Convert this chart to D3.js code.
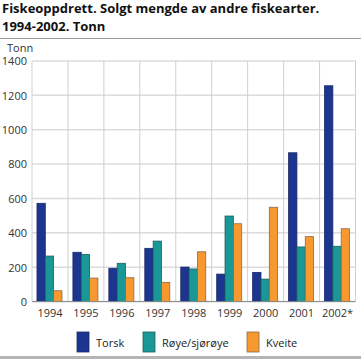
<!DOCTYPE html>
<html>
<head>
<meta charset="utf-8">
<script src="https://cdn.jsdelivr.net/npm/d3@7"></script>
<style>
body { margin:0; background:#fff; }
svg { display:block; font-family: "Open Sans", sans-serif; }
</style>
</head>
<body>
<svg id="c" width="361" height="359"></svg>
<script>
const years = ["1994","1995","1996","1997","1998","1999","2000","2001","2002*"];
const seriesNames = ["Torsk","Røye/sjørøye","Kveite"];
const torsk = [572, 287, 194, 310, 201, 160, 170, 866, 1256];
const roye  = [265, 275, 223, 352, 190, 498, 131, 318, 322];
const kveite= [63, 137, 139, 112, 290, 453, 549, 378, 424];
const yTicks = [0,200,400,600,800,1000,1200,1400];
const colors = ["#1b3591","#1a9898","#f7992f"];
const strokes = ["#1a2a66","#1f5f5f","#8a6a4a"];

(function(){
const svg = d3.select("#c");
const W = 361, H = 359;
const pl = 32, pr = 355.5, pt = 61, pb = 301.6;

svg.append("text").attr("x",2).attr("y",13).attr("font-size",13).attr("font-weight","bold").attr("fill","#111")
  .text("Fiskeoppdrett. Solgt mengde av andre fiskearter.");
svg.append("text").attr("x",2).attr("y",31).attr("font-size",13).attr("font-weight","bold").attr("fill","#111")
  .text("1994-2002. Tonn");
svg.append("line").attr("x1",0).attr("x2",W).attr("y1",38.5).attr("y2",38.5).attr("stroke","#9a9a9a").attr("stroke-width",1);

svg.append("text").attr("x",7).attr("y",52).attr("font-size",11).attr("fill","#333").text("Tonn");

const x = d3.scaleBand().domain(years).range([pl,pr]);
const y = d3.scaleLinear().domain([0,1400]).range([pb,pt]);
const xi = d3.scaleBand().domain(seriesNames).range([0,25]);

svg.append("g").selectAll("line").data(yTicks).join("line")
  .attr("x1",pl).attr("x2",pr).attr("y1",d=>y(d)).attr("y2",d=>y(d))
  .attr("stroke","#dcdcdc").attr("stroke-width",1.5);
const vx = years.map(d=>x(d)).concat([pr]);
svg.append("g").selectAll("line").data(vx).join("line")
  .attr("x1",d=>d).attr("x2",d=>d).attr("y1",pt).attr("y2",pb)
  .attr("stroke","#cfcfcf").attr("stroke-width",1);

const yAxis = d3.axisLeft(y).tickValues(yTicks).tickFormat(d3.format("d")).tickSize(0).tickPadding(0);
const ga = svg.append("g").attr("transform",`translate(${pl-5},0)`).call(yAxis);
ga.select(".domain").remove();
ga.selectAll("text").attr("font-size",11).attr("fill","#333").attr("font-family","Open Sans, sans-serif").attr("dy","0.35em");

const xAxis = d3.axisBottom(x).tickSize(0).tickPadding(0);
const gx = svg.append("g").attr("transform",`translate(0,${pb+5})`).call(xAxis);
gx.select(".domain").remove();
gx.selectAll("text").attr("font-size",11).attr("fill","#333").attr("font-family","Open Sans, sans-serif").attr("dy","0.9em");

const data = [torsk, roye, kveite];
const off = (x.bandwidth()-25)/2 - 0.5;
data.forEach((vals,si)=>{
  svg.append("g").selectAll("rect").data(vals).join("rect")
    .attr("x",(d,i)=>x(years[i])+off+xi(seriesNames[si]))
    .attr("width",xi.bandwidth())
    .attr("y",d=>y(d))
    .attr("height",d=>y(0)-y(d))
    .attr("fill",colors[si])
    .attr("stroke",strokes[si]).attr("stroke-width",0.8);
});
svg.append("line").attr("x1",pl).attr("x2",pr).attr("y1",pb).attr("y2",pb).attr("stroke","#888").attr("stroke-width",1);

const legX = [77, 143, 247];
const lg = svg.append("g");
seriesNames.forEach((n,i)=>{
  lg.append("rect").attr("x",legX[i]).attr("y",332).attr("width",12).attr("height",20)
    .attr("fill",colors[i]).attr("stroke",strokes[i]).attr("stroke-width",0.8);
  lg.append("text").attr("x",legX[i]+19).attr("y",347).attr("font-size",11).attr("fill","#222").text(n);
});
svg.append("line").attr("x1",0).attr("x2",W).attr("y1",357.5).attr("y2",357.5).attr("stroke","#b5b5b5").attr("stroke-width",3);
})();
</script>
</body>
</html>
